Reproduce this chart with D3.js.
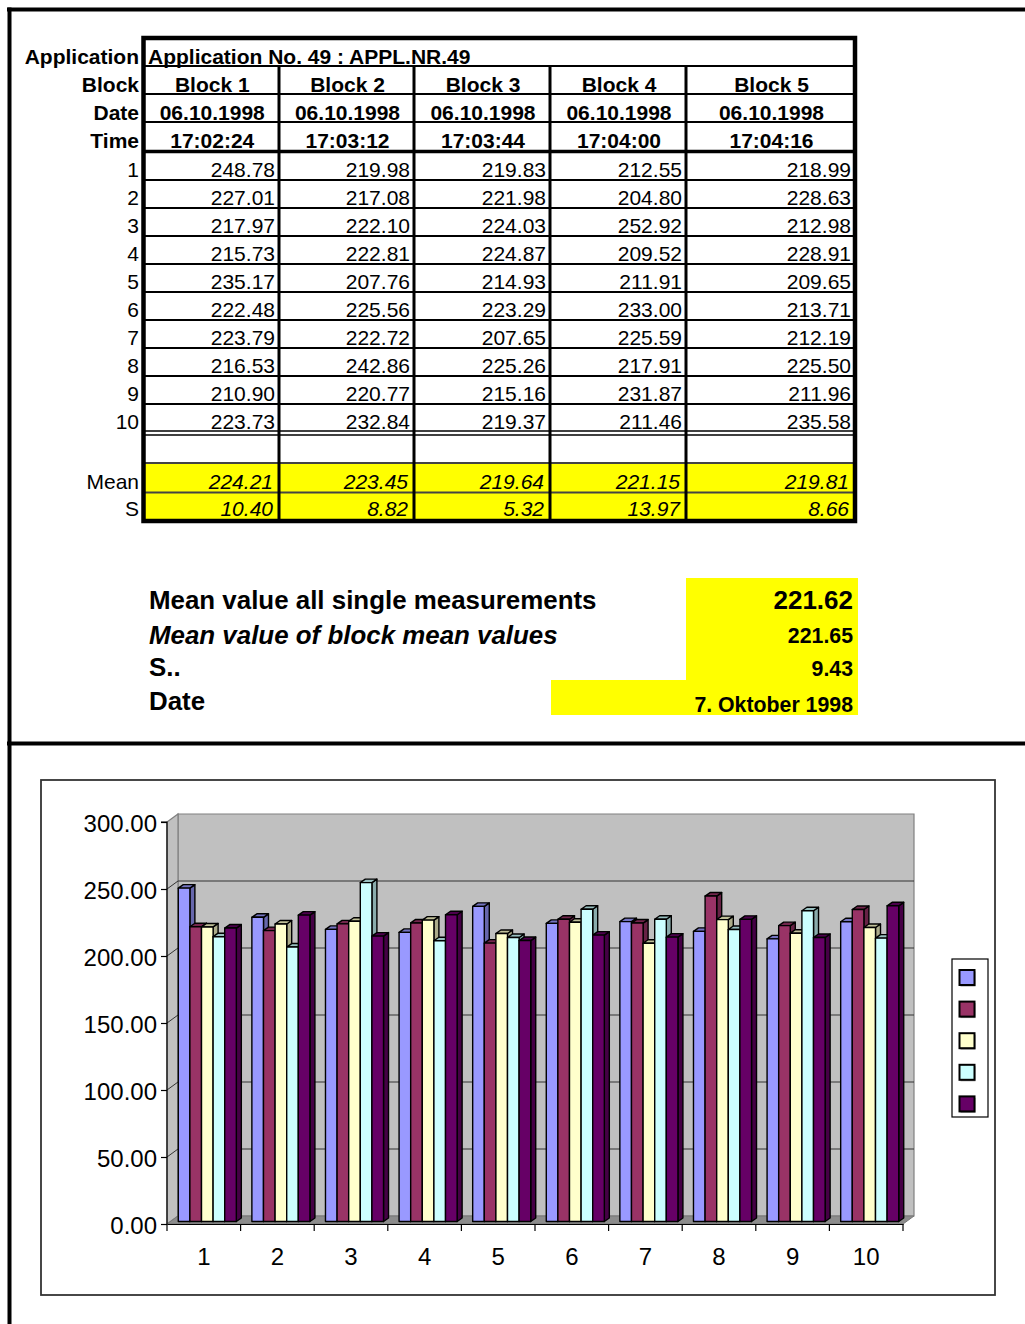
<!DOCTYPE html>
<html>
<head>
<meta charset="utf-8">
<script src="https://cdn.jsdelivr.net/npm/d3@7"></script>
<style>
body{margin:0;background:#fff;}
svg{display:block;font-family:"Liberation Sans",Arial,sans-serif;}
</style>
</head>
<body>
<script>
// ---------- DATA ----------
const blocks = ["Block 1","Block 2","Block 3","Block 4","Block 5"];
const dates = ["06.10.1998","06.10.1998","06.10.1998","06.10.1998","06.10.1998"];
const times = ["17:02:24","17:03:12","17:03:44","17:04:00","17:04:16"];
const measurements = ["1","2","3","4","5","6","7","8","9","10"];
const block1 = [248.78,227.01,217.97,215.73,235.17,222.48,223.79,216.53,210.90,223.73];
const block2 = [219.98,217.08,222.10,222.81,207.76,225.56,222.72,242.86,220.77,232.84];
const block3 = [219.83,221.98,224.03,224.87,214.93,223.29,207.65,225.26,215.16,219.37];
const block4 = [212.55,204.80,252.92,209.52,211.91,233.00,225.59,217.91,231.87,211.46];
const block5 = [218.99,228.63,212.98,228.91,209.65,213.71,212.19,225.50,211.96,235.58];
const means = [224.21,223.45,219.64,221.15,219.81];
const sds = [10.40,8.82,5.32,13.97,8.66];
const summaryLabels = ["Mean value all single measurements","Mean value of block mean values","S..","Date"];
const summaryValues = ["221.62","221.65","9.43","7. Oktober 1998"];
const applicationTitle = "Application No. 49 : APPL.NR.49";
const rowLabels = ["Application","Block","Date","Time"];
const yTicks = [0,50,100,150,200,250,300];
const seriesColors = ["#9999FF","#993366","#FFFFCC","#CCFFFF","#660066"];

const series = [block1,block2,block3,block4,block5];
const f2 = d3.format(".2f");

const W = 1025, H = 1324;
const svg = d3.select("body").append("svg").attr("width",W).attr("height",H);

// ---------- PAGE FRAME ----------
svg.append("line").attr("x1",7).attr("x2",W).attr("y1",9.5).attr("y2",9.5).attr("stroke","#000").attr("stroke-width",4);
svg.append("line").attr("x1",9.5).attr("x2",9.5).attr("y1",7.5).attr("y2",H).attr("stroke","#000").attr("stroke-width",4);
svg.append("line").attr("x1",7).attr("x2",W).attr("y1",743.5).attr("y2",743.5).attr("stroke","#000").attr("stroke-width",4);

// ---------- TABLE ----------
const colEdges = [143.5,279,414,550,686,855];
const colLeft = i => colEdges[i], colRight = i => colEdges[i+1];
const rowH = 28;
const dataTop = 151.5;
const dataBottom = dataTop + rowH*measurements.length;
const meanTop = 463, meanBot = 492.5, sBot = 521;
const T = svg.append("g");
const fontSz = 21;

T.append("rect").attr("x",colEdges[0]).attr("y",meanTop).attr("width",colEdges[5]-colEdges[0]).attr("height",sBot-meanTop).attr("fill","#FFFF00");

[66,94,122].forEach(yy=>T.append("line").attr("x1",colEdges[0]).attr("x2",colEdges[5]).attr("y1",yy).attr("y2",yy).attr("stroke","#000").attr("stroke-width",2));
T.append("line").attr("x1",colEdges[0]).attr("x2",colEdges[5]).attr("y1",151.5).attr("y2",151.5).attr("stroke","#000").attr("stroke-width",3.5);
measurements.forEach((m,i)=>{
  if(i<measurements.length-1){
    const yy = dataTop+rowH*(i+1)+0.5;
    T.append("line").attr("x1",colEdges[0]).attr("x2",colEdges[5]).attr("y1",yy).attr("y2",yy).attr("stroke","#000").attr("stroke-width",2);
  }
});
[dataBottom-0.5,dataBottom+3.5].forEach(yy=>T.append("line").attr("x1",colEdges[0]).attr("x2",colEdges[5]).attr("y1",yy).attr("y2",yy).attr("stroke","#000").attr("stroke-width",1.6));
T.append("line").attr("x1",colEdges[0]).attr("x2",colEdges[5]).attr("y1",meanTop).attr("y2",meanTop).attr("stroke","#444").attr("stroke-width",2);
T.append("line").attr("x1",colEdges[0]).attr("x2",colEdges[5]).attr("y1",meanBot).attr("y2",meanBot).attr("stroke","#444").attr("stroke-width",2);
[1,2,3,4].forEach(i=>T.append("line").attr("x1",colEdges[i]).attr("x2",colEdges[i]).attr("y1",66).attr("y2",sBot).attr("stroke","#000").attr("stroke-width",3));
T.append("rect").attr("x",colEdges[0]).attr("y",38).attr("width",colEdges[5]-colEdges[0]).attr("height",sBot-38).attr("fill","none").attr("stroke","#000").attr("stroke-width",4.5);

const baselines = [63.5,91.5,119.5,147.5];
rowLabels.forEach((t,i)=>T.append("text").attr("x",139).attr("y",baselines[i]).attr("text-anchor","end").attr("font-weight","bold").attr("font-size",fontSz).text(t));
T.append("text").attr("x",148).attr("y",baselines[0]).attr("font-weight","bold").attr("font-size",fontSz).text(applicationTitle);
[blocks,dates,times].forEach((arr,r)=>{
  arr.forEach((t,i)=>T.append("text").attr("x",(colLeft(i)+colRight(i))/2+1).attr("y",baselines[r+1]).attr("text-anchor","middle").attr("font-weight","bold").attr("font-size",fontSz).text(t));
});
measurements.forEach((m,r)=>{
  const bl = dataTop + rowH*(r+1) - 3;
  T.append("text").attr("x",139).attr("y",bl).attr("text-anchor","end").attr("font-size",fontSz).text(m);
  series.forEach((s,c)=>T.append("text").attr("x",colRight(c)-4).attr("y",bl).attr("text-anchor","end").attr("font-size",fontSz).text(f2(s[r])));
});
T.append("text").attr("x",139).attr("y",489).attr("text-anchor","end").attr("font-size",fontSz).text("Mean");
T.append("text").attr("x",139).attr("y",516).attr("text-anchor","end").attr("font-size",fontSz).text("S");
means.forEach((v,c)=>T.append("text").attr("x",colRight(c)-6).attr("y",489).attr("text-anchor","end").attr("font-style","italic").attr("font-size",fontSz).text(f2(v)));
sds.forEach((v,c)=>T.append("text").attr("x",colRight(c)-6).attr("y",516).attr("text-anchor","end").attr("font-style","italic").attr("font-size",fontSz).text(f2(v)));

// ---------- SUMMARY ----------
const S = svg.append("g");
S.append("rect").attr("x",686).attr("y",578).attr("width",172).attr("height",103).attr("fill","#FFFF00");
S.append("rect").attr("x",551).attr("y",680).attr("width",307).attr("height",35).attr("fill","#FFFF00");
const sumBase = [609,644,676,710];
summaryLabels.forEach((t,i)=>S.append("text").attr("x",149).attr("y",sumBase[i]).attr("font-weight","bold").attr("font-style",i===1?"italic":"normal").attr("font-size",25.9).text(t));
const valBase = [609,642.5,675.5,711.5];
const valSize = [26,21.3,21.3,21.3];
summaryValues.forEach((t,i)=>S.append("text").attr("x",853).attr("y",valBase[i]).attr("text-anchor","end").attr("font-weight","bold").attr("font-size",valSize[i]).text(t));

// ---------- CHART ----------
const C = svg.append("g");
C.append("rect").attr("x",41).attr("y",780).attr("width",954).attr("height",515).attr("fill","#fff").attr("stroke","#333").attr("stroke-width",1.8);

const y = d3.scaleLinear().domain([0,300]).range([1224,822]);
const x = d3.scaleBand().domain(measurements).range([167,903]).padding(0);
const xs = d3.scaleBand().domain(d3.range(series.length)).range([0,x.bandwidth()]).paddingOuter(0.67).paddingInner(0);
const DX = 11, DY = -8;
const pts = a => a.map(p=>p.join(",")).join(" ");

const y0 = y(0), yT = y(300), xL = x.range()[0], xR = x.range()[1];
C.append("polygon").attr("points",pts([[xL+DX,yT+DY],[xR+DX,yT+DY],[xR+DX,y0+DY],[xL+DX,y0+DY]])).attr("fill","#C0C0C0").attr("stroke","#808080").attr("stroke-width",1.2);
C.append("polygon").attr("points",pts([[xL,yT],[xL+DX,yT+DY],[xL+DX,y0+DY],[xL,y0]])).attr("fill","#C0C0C0").attr("stroke","#808080").attr("stroke-width",1.2);
C.append("polygon").attr("points",pts([[xL,y0],[xR,y0],[xR+DX,y0+DY],[xL+DX,y0+DY]])).attr("fill","#8C8C8C").attr("stroke","#777").attr("stroke-width",1);
yTicks.filter(t=>t>0&&t<300).forEach(t=>{
  C.append("polyline").attr("points",pts([[xL,y(t)],[xL+DX,y(t)+DY],[xR+DX,y(t)+DY]])).attr("fill","none").attr("stroke","#333").attr("stroke-width",1);
});

const fx = 3.5, fy = -2.5, bdx = 5, bdy = -3.5;
const bw = xs.bandwidth();
const B = C.append("g").attr("stroke","#000").attr("stroke-width",1.4).attr("stroke-linejoin","round");
measurements.forEach((m,i)=>{
  series.forEach((s,k)=>{
    const v = s[i];
    const x0 = x(m)+xs(k)+fx, x1 = x0+bw;
    const yt = y(v)+fy, yb = y(0)+fy;
    const col = d3.color(seriesColors[k]);
    B.append("polygon").attr("points",pts([[x1,yt],[x1+bdx,yt+bdy],[x1+bdx,yb+bdy],[x1,yb]])).attr("fill",col.darker(1.1).formatHex());
    B.append("polygon").attr("points",pts([[x0,yt],[x0+bdx,yt+bdy],[x1+bdx,yt+bdy],[x1,yt]])).attr("fill",col.darker(0.8).formatHex());
    B.append("rect").attr("x",x0).attr("y",yt).attr("width",bw).attr("height",yb-yt).attr("fill",seriesColors[k]);
  });
});

const yAxis = d3.axisLeft(y).tickValues(yTicks).tickFormat(f2).tickSize(6).tickPadding(4);
const ga = C.append("g").attr("transform",`translate(${xL},0)`).call(yAxis);
ga.select(".domain").attr("d",`M-6,${yT}H0V${y0}`).attr("stroke","#000").attr("stroke-width",1.2);
ga.selectAll(".tick line").attr("stroke","#000").attr("stroke-width",1.2);
ga.selectAll(".tick text").attr("font-size",24).attr("dy","0.4em").attr("font-family","Liberation Sans, Arial, sans-serif").attr("fill","#000");

const xAxis = d3.axisBottom(x).tickSize(0).tickPadding(24);
const gx = C.append("g").attr("transform",`translate(0,${y0})`).call(xAxis);
gx.select(".domain").attr("stroke","#000").attr("stroke-width",1.2);
gx.selectAll(".tick text").attr("font-size",24).attr("font-family","Liberation Sans, Arial, sans-serif").attr("fill","#000");
const bounds = measurements.map(m=>x(m)).concat([xR]);
gx.selectAll("line.bt").data(bounds).enter().append("line").attr("class","bt")
  .attr("x1",d=>d).attr("x2",d=>d).attr("y1",0).attr("y2",7).attr("stroke","#000").attr("stroke-width",1.2);

const L = C.append("g");
L.append("rect").attr("x",952).attr("y",959).attr("width",36).attr("height",158).attr("fill","#fff").attr("stroke","#000").attr("stroke-width",1.2);
seriesColors.forEach((c,k)=>{
  const ly = 970 + k*31.6;
  L.append("rect").attr("x",960.5).attr("y",ly+1.5).attr("width",15).attr("height",15).attr("fill","#999");
  L.append("rect").attr("x",959.5).attr("y",ly).attr("width",15).attr("height",15).attr("fill",c).attr("stroke","#000").attr("stroke-width",2);
});
</script>
</body>
</html>
